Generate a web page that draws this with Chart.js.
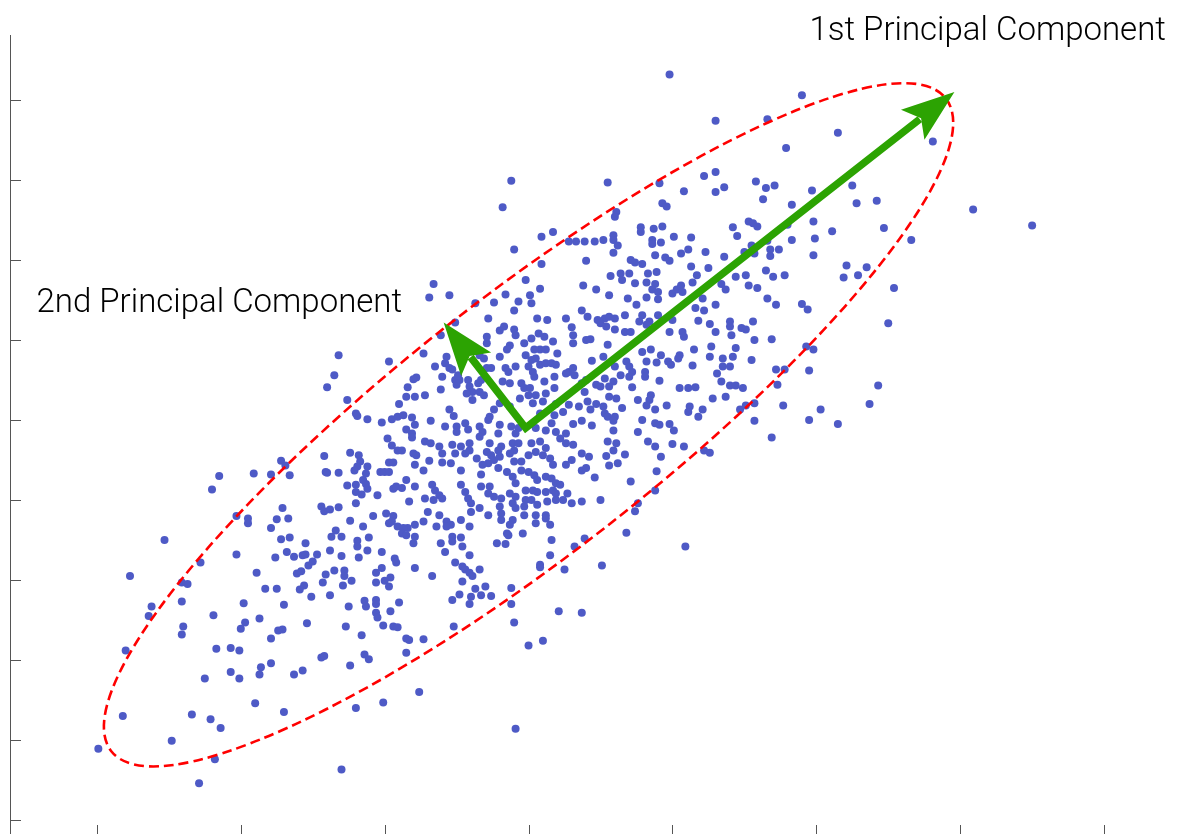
<!DOCTYPE html>
<html>
<head>
<meta charset="utf-8">
<title>Principal components</title>
<script src="https://cdn.jsdelivr.net/npm/chart.js@4.4.1/dist/chart.umd.min.js"></script>
<style>
  html, body { margin: 0; padding: 0; background: #fff; overflow: hidden; }
  #wrap { width: 1180px; height: 846px; }
</style>
</head>
<body>
<div id="wrap"><canvas id="pcaChart" width="1180" height="846"></canvas></div>
<script>
// sample cloud (x, y)
const samples = [
  // lower left
  [-2.77,-1.95],[-2.28,-1.78],[-2.41,-2.03],[-2.37,-2.05],[-2.41,-2.27],[-2.62,-2.33],[-2.64,-2.45],[-2.40,-2.58],[-2.41,-2.68],[-2.80,-2.88],
  [-2.19,-2.44],[-1.98,-2.29],[-1.89,-1.91],[-1.97,-2.53],[-2.00,-2.61],[-1.87,-2.48],[-1.83,-2.11],[-1.75,-2.11],[-1.70,-2.31],[-1.74,-2.63],
  [-1.71,-2.62],[-1.79,-2.73],[-2.17,-2.86],[-2.07,-2.85],[-2.01,-2.88],[-2.07,-3.15],[-2.01,-3.23],[-2.25,-3.23],[-1.86,-3.09],[-1.87,-3.18],
  [-1.79,-3.04],[-1.63,-3.18],[-1.57,-3.13],[-1.90,-3.54],[-1.70,-3.65],[-2.34,-3.68],[-2.21,-3.74],[-2.14,-3.85],[-2.82,-3.70],[-2.48,-4.01],
  [-2.99,-4.11],[-2.18,-4.24],[-2.29,-4.54],[-1.30,-4.37],[-1.61,-1.92],[-1.58,-1.89],[-1.53,-1.82],[-1.50,-1.77],[-1.56,-2.07],[-1.59,-2.12],
  [-1.51,-2.21],[-1.54,-2.54],[-1.41,-1.93],[-1.43,-2.03],[-1.35,-1.88],[-1.28,-1.88],[-1.28,-1.95],[-1.29,-2.07],[-1.23,-2.01],[-1.38,-2.19],
  [-1.25,-2.33],[-1.27,-2.58],[-1.16,-2.69],[-1.44,-2.97],[-1.42,-2.95],[-1.24,-3.07],[-1.14,-2.93],[-1.11,-2.99],[-1.02,-1.85],[-1.06,-1.91],
  [-1.06,-2.03],[-1.00,-2.01],[-0.96,-1.97],[-0.97,-2.08],[-1.14,-2.26],[-1.13,-2.33],[-1.06,-2.25],[-1.06,-2.30],[-1.06,-2.41],[-1.05,-2.47],
  [-0.96,-2.39],[-0.90,-2.28],[-1.01,-2.57],[-0.94,-2.58],[-0.91,-2.59],[-0.92,-1.78],[-0.79,-1.85],[-0.67,-1.95],[-0.85,-2.73],[-0.83,-2.75],
  [-0.73,-2.74],[-0.85,-2.91],[-0.76,-3.40],[-1.01,-3.53],[-1.20,-3.60],[-0.51,-1.78],[-0.46,-1.83],[-0.44,-1.87],[-0.41,-1.91],[-0.39,-1.95],
  [-0.34,-1.87],[-0.46,-2.02],[-0.48,-2.18],[-0.53,-2.25],[-0.37,-2.11],[-0.40,-2.21],[-0.41,-2.30],[-0.33,-2.19],[-0.30,-2.08],[-0.26,-2.20],
  [-0.52,-2.58],[-0.12,-2.10],[-0.12,-2.30],[-0.10,-2.53],[0.00,-2.82],[0.10,-2.76],[-0.09,-3.86],[0.08,-1.81],[0.08,-1.84],[0.25,-1.87],
  [0.21,-2.39],[0.37,-2.41],
  // left middle
  [-1.32,0.81],[-0.97,0.73],[-1.35,0.56],[-1.40,0.41],[-1.26,0.25],[-1.20,0.08],[-1.19,0.05],[-1.12,0.01],[-1.02,-0.03],[-0.95,0.01],
  [-0.91,0.04],[-0.90,0.20],[-0.98,-0.23],[-0.95,-0.32],[-0.91,-0.38],[-1.42,-0.45],[-1.24,-0.41],[-1.18,-0.44],[-1.17,-0.52],[-1.19,-0.58],
  [-1.12,-0.58],[-1.21,-0.63],[-1.13,-0.67],[-1.03,-0.65],[-1.00,-0.65],[-0.97,-0.65],[-0.97,-0.53],[-0.94,-0.53],[-1.41,-0.65],[-1.40,-0.66],
  [-1.32,-0.66],[-1.72,-0.51],[-1.69,-0.57],[-1.66,-0.69],[-1.79,-0.68],[-1.91,-0.67],[-2.15,-0.70],[-2.20,-0.87],[-1.26,-0.82],[-1.20,-0.81],
  [-1.15,-0.75],[-1.13,-0.80],[-1.12,-0.86],[-1.20,-0.90],[-1.16,-0.93],[-1.05,-0.94],[-0.94,-0.86],[-0.92,-0.83],[-1.20,-1.04],[-1.44,-1.08],
  [-1.42,-1.14],[-1.38,-1.12],[-1.32,-1.09],[-1.71,-1.10],[-1.75,-1.24],[-1.67,-1.23],[-1.79,-1.35],[-2.03,-1.20],[-1.95,-1.23],[-1.95,-1.29],
  [-2.53,-1.50],[-2.03,-1.68],[-1.72,-1.49],[-1.66,-1.47],[-1.55,-1.54],[-1.34,-1.38],[-1.37,-1.46],[-1.30,-1.46],[-1.24,-1.26],[-1.15,-1.33],
  [-1.08,-1.20],[-0.99,-1.17],[-0.94,-1.20],[-0.97,-1.29],[-0.95,-1.27],[-0.91,-1.33],[-1.19,-1.51],[-1.19,-1.58],[-1.11,-1.47],[-1.12,-1.63],
  [-1.02,-1.65],[-1.38,-1.63],[-1.68,-1.65],[-1.76,-1.72],[-1.63,-1.71],[-1.57,-1.69],[-1.55,-1.68],[-1.47,-1.68],[-1.30,-1.70],[-1.18,-1.72],
  [-0.93,-1.73],
  // centre, lower half
  [-0.39,0.25],[-0.20,0.21],[-0.13,0.17],[0.03,0.21],[0.10,0.23],[0.19,0.20],[0.28,0.19],[0.35,0.17],[0.41,0.23],[0.43,0.13],
  [0.47,0.20],[-0.55,0.13],[-0.52,0.05],[-0.87,0.06],[-0.81,0.03],[-0.24,0.13],[-0.27,0.04],[0.24,0.10],[0.18,0.06],[0.08,0.08],
  [-0.68,-0.01],[-0.79,-0.06],[-0.85,-0.12],[-0.81,-0.17],[-0.58,-0.08],[-0.50,-0.08],[-0.44,-0.04],[-0.42,-0.12],[-0.50,-0.15],[-0.34,-0.08],
  [-0.32,-0.15],[-0.28,0.00],[-0.20,-0.06],[-0.21,-0.17],[-0.12,-0.08],[-0.07,-0.10],[-0.09,-0.17],[0.05,-0.10],[0.12,-0.13],[0.16,-0.04],
  [0.19,-0.15],[0.26,-0.17],[0.31,-0.05],[0.37,-0.01],[0.44,-0.07],
  [-0.81,-0.22],[-0.88,-0.38],[-0.72,-0.27],[-0.68,-0.29],[-0.62,-0.33],[-0.60,-0.42],[-0.53,-0.31],[-0.47,-0.33],[-0.41,-0.29],[-0.34,-0.21],
  [-0.27,-0.29],[-0.19,-0.33],[-0.11,-0.29],[-0.07,-0.29],[-0.10,-0.38],[0.02,-0.29],[0.08,-0.27],[0.12,-0.35],[0.22,-0.23],[0.26,-0.29],
  [0.31,-0.31],[0.37,-0.42],[0.42,-0.46],
  [-0.80,-0.42],[-0.78,-0.44],[-0.79,-0.56],[-0.69,-0.51],[-0.60,-0.53],[-0.54,-0.54],[-0.51,-0.42],[-0.44,-0.42],[-0.41,-0.38],[-0.36,-0.48],
  [-0.29,-0.40],[-0.26,-0.44],[-0.24,-0.50],[-0.21,-0.38],[-0.28,-0.54],[-0.32,-0.56],[-0.20,-0.46],[-0.13,-0.42],[-0.10,-0.52],[-0.05,-0.52],
  [0.00,-0.44],[0.05,-0.40],[0.10,-0.44],[0.15,-0.48],[0.17,-0.56],[0.26,-0.56],[0.30,-0.50],[0.37,-0.63],[0.40,-0.60],
  [-0.73,-0.63],[-0.85,-0.75],[-0.47,-0.63],[-0.33,-0.68],[-0.21,-0.60],[-0.15,-0.65],[-0.11,-0.71],[-0.05,-0.63],[0.00,-0.65],[0.04,-0.69],
  [0.06,-0.75],[0.12,-0.71],[0.16,-0.73],[0.19,-0.79],[-0.09,-0.79],[0.46,-0.72],
  [-0.88,-0.85],[-0.79,-0.83],[-0.67,-0.81],[-0.65,-0.88],[-0.62,-0.94],[-0.60,-0.98],[-0.72,-0.98],[-0.83,-1.02],[-0.47,-0.81],[-0.44,-0.90],
  [-0.42,-0.98],[-0.33,-0.83],[-0.27,-0.83],[-0.28,-0.92],[-0.24,-0.96],[-0.19,-0.98],[-0.13,-0.92],[-0.09,-0.96],[-0.02,-0.88],[0.03,-0.88],
  [0.06,-0.90],[0.12,-0.90],[0.17,-0.88],[0.22,-0.81],[0.19,-0.92],[0.27,-0.92],[0.24,-1.00],[0.30,-1.04],[0.37,-1.02],
  [-0.70,-1.15],[-0.66,-1.00],[-0.62,-1.19],[-0.40,-1.04],[-0.40,-1.15],[-0.34,-1.10],[-0.28,-1.19],[-0.20,-1.08],[-0.19,-1.17],[-0.11,-1.04],
  [-0.09,-1.10],[-0.03,-1.08],[-0.02,-1.00],[0.02,-1.00],[0.06,-1.06],[0.05,-1.19],[0.12,-1.19],[0.13,-1.02],[0.19,-1.00],[-0.03,-1.19],
  [-0.73,-1.27],[-0.79,-1.31],[-0.84,-1.35],[-0.87,-1.35],[-0.88,-1.42],[-0.64,-1.33],[-0.57,-1.27],[-0.54,-1.31],[-0.47,-1.25],[-0.57,-1.33],
  [-0.41,-1.33],[-0.19,-1.25],[-0.11,-1.25],[-0.13,-1.31],[0.05,-1.29],[0.12,-1.23],[0.15,-1.31],[-0.04,-1.42],[-0.15,-1.42],
  [-0.85,-1.44],[-0.79,-1.46],[-0.80,-1.54],[-0.53,-1.46],[-0.53,-1.52],[-0.47,-1.47],[-0.46,-1.58],[-0.61,-1.54],[-0.58,-1.65],[-0.41,-1.69],
  [-0.22,-1.54],[-0.16,-1.55],[-0.14,-1.44],[0.16,-1.50],[0.15,-1.69],[0.32,-1.58],[0.39,-1.48],
  // centre, upper half
  [-0.10,2.13],[0.09,1.95],[0.28,2.23],[0.33,2.23],[0.39,2.23],[0.46,2.23],[0.40,1.99],[-0.02,1.75],[0.08,1.64],[0.01,1.56],
  [0.02,1.46],[-0.07,1.48],[-0.10,1.37],[-0.16,1.57],[-0.24,1.47],[-0.37,1.46],[-0.28,1.27],[-0.51,1.22],[-0.66,1.70],[-0.69,1.53],
  [-0.55,1.56],[-0.61,1.06],[-0.73,0.83],[0.38,1.68],[0.47,1.63],[0.37,1.37],[0.41,1.29],[0.48,1.25],[0.26,1.27],[0.30,1.16],
  [0.31,1.06],[0.13,1.25],[0.06,1.27],[-0.20,1.12],[-0.17,1.17],[-0.10,1.13],[-0.09,1.06],[-0.29,1.04],[-0.29,0.96],[-0.13,0.93],
  [-0.15,0.88],[-0.03,0.96],[0.02,1.02],[0.07,1.08],[0.11,1.04],[0.17,0.98],[0.08,0.88],[0.04,0.88],[0.12,0.88],[-0.02,0.81],
  [0.02,0.75],[0.05,0.77],[0.20,0.83],[0.16,0.71],[0.19,0.69],[0.31,0.96],[0.43,1.01],[0.40,1.00],[0.44,0.74],[-0.20,0.79],
  [-0.34,0.81],[-0.31,0.77],[-0.29,0.65],[-0.26,0.65],[-0.16,0.65],[-0.14,0.60],[-0.09,0.67],[0.00,0.67],[0.03,0.60],[0.08,0.69],
  [0.12,0.71],[0.28,0.60],[0.31,0.65],[0.32,0.56],[0.26,0.58],[-0.57,0.79],[-0.58,0.71],[-0.55,0.65],[-0.53,0.63],[-0.65,0.67],
  [-0.60,0.54],[-0.78,0.53],[-0.80,0.51],[-0.84,0.41],[-0.51,0.50],[-0.50,0.44],[-0.48,0.50],[-0.42,0.50],[-0.35,0.46],[-0.33,0.50],
  [-0.41,0.42],[-0.39,0.35],[-0.34,0.35],[-0.31,0.31],[-0.43,0.33],[-0.61,0.38],[-0.72,0.31],[-0.79,0.29],[-0.85,0.29],[-0.18,0.48],
  [-0.13,0.46],[-0.05,0.46],[-0.03,0.40],[0.01,0.40],[0.04,0.54],[0.11,0.48],[0.18,0.54],[0.18,0.40],[0.05,0.31],[0.00,0.31],
  [-0.06,0.27],[0.12,0.33],[0.37,0.46],[0.39,0.35],[0.40,0.50],[0.47,0.44],[-0.49,0.56],
  // upper band
  [0.98,4.32],[1.30,3.74],[1.66,3.76],[1.79,3.40],[-0.12,2.99],[-0.18,2.66],[0.55,2.97],[0.09,2.29],[0.17,2.35],[0.52,2.25],
  [0.59,2.31],[0.59,2.25],[0.62,2.18],[0.59,2.09],[0.61,2.60],[0.60,2.54],[0.91,2.96],[0.93,2.71],[0.96,2.67],[1.08,2.86],
  [1.22,3.05],[1.30,3.10],[1.30,2.85],[1.36,2.91],[1.58,2.98],[1.65,2.90],[1.71,2.93],[1.63,2.76],[1.83,2.69],[0.78,2.41],
  [0.78,2.35],[0.87,2.39],[0.93,2.42],[1.01,2.29],[1.13,2.28],[0.86,2.25],[0.86,2.20],[0.92,2.22],[0.88,2.06],[0.95,2.03],
  [0.98,1.99],[1.06,2.08],[1.11,2.13],[1.23,2.10],[1.36,2.04],[1.42,2.41],[1.45,2.30],[1.53,2.48],[1.56,2.46],[1.59,2.42],
  [1.80,2.44],[1.83,2.25],[1.66,2.24],[1.55,2.18],[1.50,2.10],[1.57,2.08],[1.68,2.13],[1.74,2.13],[1.68,2.05],[0.71,2.00],
  [0.74,1.97],[0.79,1.95],[1.13,1.92],[1.17,1.81],[1.25,1.90],[0.83,1.83],[0.89,1.85],[0.70,1.83],[0.64,1.83],[0.57,1.80],
  [0.65,1.75],[0.74,1.71],[0.82,1.72],[0.88,1.70],[0.86,1.63],[0.90,1.60],[1.00,1.58],[1.03,1.63],[1.06,1.68],[1.07,1.60],
  [1.14,1.72],[1.21,1.52],[1.34,1.70],[1.37,1.63],[1.44,1.79],[1.51,1.81],[1.53,1.68],[1.59,1.65],[1.65,1.87],[1.70,1.79],
  [1.78,1.81],[1.66,1.52],[0.56,1.56],[0.69,1.52],[0.82,1.53],[0.90,1.51],
  // right middle
  [0.75,1.44],[1.30,1.44],[1.72,1.44],[1.16,1.40],[1.22,1.37],[0.53,1.27],[0.56,1.29],[0.60,1.27],[0.50,1.21],[0.54,1.17],
  [0.60,1.13],[0.67,1.31],[0.79,1.31],[0.90,1.31],[0.84,1.23],[0.77,1.23],[0.82,1.19],[0.67,1.10],[0.71,1.10],[1.00,1.25],
  [0.98,1.10],[1.07,1.10],[1.08,1.04],[1.18,1.24],[1.26,1.20],[1.30,1.10],[1.40,1.23],[1.40,1.17],[1.48,1.15],[1.51,1.13],
  [1.56,1.23],[1.41,1.06],[1.57,1.00],[1.69,1.01],[0.55,0.94],[0.79,0.85],[0.85,0.88],[0.92,0.81],[1.05,0.81],[1.15,0.88],
  [1.27,0.92],[1.26,0.79],[1.35,0.77],[1.44,0.90],[1.42,0.79],[1.55,0.75],[0.52,0.79],[0.60,0.67],[0.68,0.73],[0.70,0.67],
  [0.64,0.56],[0.72,0.60],[0.70,0.54],[0.81,0.60],[0.81,0.54],[0.82,0.73],[0.89,0.72],[0.97,0.73],[0.99,0.69],[1.04,0.77],
  [0.91,0.49],[1.14,0.68],[1.31,0.58],[1.35,0.67],[1.40,0.67],[1.34,0.48],[0.53,0.52],[0.59,0.48],[0.56,0.42],[0.50,0.42],
  [0.72,0.41],[1.05,0.40],[1.11,0.40],[1.16,0.41],[1.40,0.43],[1.44,0.43],[1.49,0.40],[1.73,0.44],[1.72,0.63],[1.78,0.63],
  [0.56,0.29],[0.61,0.27],[0.76,0.25],[0.85,0.31],[0.84,0.25],[0.82,0.18],[0.88,0.13],[0.96,0.18],[1.12,0.17],[1.11,0.10],
  [1.21,0.13],[1.18,0.04],[1.28,0.27],[1.37,0.29],[1.47,0.13],[1.51,0.18],[1.57,0.21],[1.77,0.18],[0.52,0.17],[0.53,0.08],
  [0.55,0.04],[0.60,0.04],[0.59,-0.01],[0.65,0.15],[0.79,0.00],[0.88,-0.04],[0.91,-0.06],[0.98,-0.05],[1.01,-0.13],[0.59,-0.13],
  [0.76,-0.15],[0.55,-0.27],[0.61,-0.29],[0.59,-0.38],[0.54,-0.45],[0.67,-0.43],[0.83,-0.27],[0.88,-0.33],[1.00,-0.30],[1.08,-0.33],
  [0.92,-0.46],[1.22,-0.38],[1.26,-0.41],[1.57,-0.01],[1.69,-0.22],
  // upper right
  [1.90,4.06],[2.15,3.59],[2.81,3.48],[1.97,2.87],[2.25,2.93],[2.28,2.71],[2.42,2.74],[3.09,2.63],[3.50,2.43],[1.98,2.48],
  [2.11,2.36],[1.99,2.27],[2.47,2.40],[2.66,2.25],[1.98,2.06],[2.21,1.93],[2.35,1.91],[2.19,1.78],[2.29,1.81],[2.54,1.65],
  [1.90,1.45],[1.94,1.38],[2.50,1.21],[1.93,0.92],[1.98,0.88],[1.95,0.62],[2.43,0.43],[2.37,0.20],[2.03,0.13],[1.95,0.00],
  [2.15,-0.05],
  // below the band, right of centre
  [0.56,-0.57],[0.62,-0.54],[0.89,-0.64],[0.71,-0.77],[0.50,-1.00],[0.88,-0.88],[0.76,-1.04],[0.74,-1.14],[0.68,-1.41],[1.09,-1.58],
  [0.51,-1.82]
];

const xTicks = [-3, -2, -1, 0, 1, 2, 3, 4];
const yTicks = [-5, -4, -3, -2, -1, 0, 1, 2, 3, 4];

// principal axes and the 2-sigma ellipse
const origin = [-0.02, -0.10];
const pc1Tip = [2.96, 4.10];
const pc2Tip = [-0.59, 1.22];
const ellipseCenter = [0.00, -0.06];
const ellipseMajorEnd = [2.90, 4.02];
const ellipseMinorEnd = [-0.55, 1.20];

const componentLabels = ['1st Principal Component', '2nd Principal Component'];
const labelAnchors = [[4.43, 4.75], [-3.42, 1.35]];

const GREEN = '#2ca302';

function drawArrowHead(ctx, from, to) {
  const dx = to[0] - from[0], dy = to[1] - from[1];
  const len = Math.hypot(dx, dy);
  const ux = dx / len, uy = dy / len, nx = -uy, ny = ux;
  const headLen = 53, half = 19;
  const bx = to[0] - ux * headLen, by = to[1] - uy * headLen;
  ctx.beginPath();
  ctx.moveTo(to[0], to[1]);
  ctx.lineTo(bx + nx * half, by + ny * half);
  ctx.lineTo(to[0] - ux * headLen * 0.8, to[1] - uy * headLen * 0.8);
  ctx.lineTo(bx - nx * half, by - ny * half);
  ctx.closePath();
  ctx.fill();
}

function shaftEnd(from, to) {
  const dx = to[0] - from[0], dy = to[1] - from[1];
  const len = Math.hypot(dx, dy);
  return [to[0] - dx / len * 44, to[1] - dy / len * 44];
}

const overlay = {
  id: 'overlay',
  afterDatasetsDraw(chart) {
    const { ctx, chartArea, scales: { x, y } } = chart;
    const toPx = p => [x.getPixelForValue(p[0]), y.getPixelForValue(p[1])];
    ctx.save();

    // inward tick marks
    ctx.strokeStyle = '#555';
    ctx.lineWidth = 1;
    ctx.beginPath();
    yTicks.forEach(v => {
      const py = Math.round(y.getPixelForValue(v)) + 0.5;
      ctx.moveTo(chartArea.left, py);
      ctx.lineTo(chartArea.left + 11, py);
    });
    xTicks.forEach(v => {
      const px = Math.round(x.getPixelForValue(v)) + 0.5;
      ctx.moveTo(px, chartArea.bottom);
      ctx.lineTo(px, chartArea.bottom - 11);
    });
    ctx.stroke();

    // dashed ellipse
    const c = toPx(ellipseCenter), a = toPx(ellipseMajorEnd), b = toPx(ellipseMinorEnd);
    const rA = Math.hypot(a[0] - c[0], a[1] - c[1]);
    const rB = Math.hypot(b[0] - c[0], b[1] - c[1]);
    const rot = Math.atan2(a[1] - c[1], a[0] - c[0]);
    ctx.beginPath();
    ctx.ellipse(c[0], c[1], rA, rB, rot, 0, Math.PI * 2);
    ctx.setLineDash([10, 5]);
    ctx.strokeStyle = '#ff0000';
    ctx.lineWidth = 2.6;
    ctx.stroke();
    ctx.setLineDash([]);

    // component arrows
    const o = toPx(origin), t1 = toPx(pc1Tip), t2 = toPx(pc2Tip);
    const e1 = shaftEnd(o, t1), e2 = shaftEnd(o, t2);
    ctx.strokeStyle = GREEN;
    ctx.fillStyle = GREEN;
    ctx.lineWidth = 7.5;
    ctx.lineJoin = 'miter';
    ctx.beginPath();
    ctx.moveTo(e2[0], e2[1]);
    ctx.lineTo(o[0], o[1]);
    ctx.lineTo(e1[0], e1[1]);
    ctx.stroke();
    drawArrowHead(ctx, o, t1);
    drawArrowHead(ctx, o, t2);

    // labels
    ctx.fillStyle = '#000';
    ctx.font = '300 33px Roboto, Lato, sans-serif';
    ctx.textBaseline = 'alphabetic';
    componentLabels.forEach((txt, i) => {
      const p = toPx(labelAnchors[i]);
      ctx.textAlign = i === 0 ? 'right' : 'left';
      ctx.fillText(txt, p[0], p[1]);
    });
    ctx.restore();
  }
};

new Chart(document.getElementById('pcaChart'), {
  type: 'scatter',
  data: {
    datasets: [{
      data: samples.map(([px, py]) => ({ x: px, y: py })),
      backgroundColor: 'rgb(78,90,198)',
      borderWidth: 0,
      pointRadius: 4,
      pointHoverRadius: 4,
    }],
  },
  options: {
    responsive: false,
    animation: false,
    devicePixelRatio: 1,
    events: [],
    layout: { padding: { left: 10, top: 35, right: 0, bottom: 10 } },
    plugins: {
      legend: { display: false },
      tooltip: { enabled: false },
    },
    scales: {
      x: { type: 'linear', display: false, min: -3.604, max: 4.50 },
      y: {
        type: 'linear',
        min: -5.2,
        max: 4.8125,
        ticks: { display: false },
        grid: { display: false, drawTicks: false },
        border: { display: true, color: '#555', width: 1 },
      },
    },
  },
  plugins: [overlay],
});
</script>
</body>
</html>
